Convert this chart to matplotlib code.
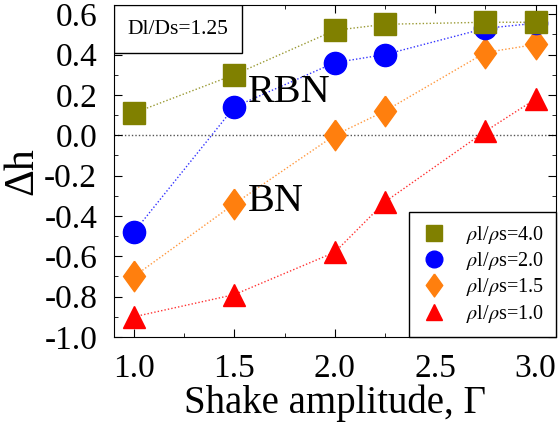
import matplotlib
matplotlib.use('Agg')
import matplotlib.pyplot as plt
from matplotlib.patches import Rectangle
from matplotlib.ticker import MultipleLocator, FormatStrFormatter

plt.rcParams['font.family'] = ['Liberation Serif', 'DejaVu Serif']
plt.rcParams['mathtext.fontset'] = 'stix'
plt.rcParams['axes.unicode_minus'] = False

# shake amplitude values
gamma = [1.0, 1.5, 2.0, 2.25, 2.75, 3.0]

# delta h for each density ratio
dh_40 = [0.11, 0.30, 0.52, 0.55, 0.56, 0.56]
dh_20 = [-0.48, 0.14, 0.36, 0.40, 0.53, 0.555]
dh_15 = [-0.70, -0.34, 0.00, 0.12, 0.41, 0.45]
dh_10 = [-0.90, -0.79, -0.58, -0.33, 0.02, 0.18]

labels = [r'$\rho$l/$\rho$s=4.0', r'$\rho$l/$\rho$s=2.0',
          r'$\rho$l/$\rho$s=1.5', r'$\rho$l/$\rho$s=1.0']

diamond = [(0, 1), (0.72, 0), (0, -1), (-0.72, 0), (0, 1)]

fig = plt.figure(figsize=(5.58, 4.26), dpi=100)
ax = fig.add_axes([0.204, 0.209, 0.792, 0.779])

ax.axhline(0.0, color='#555555', ls=(0, (1, 1.5)), lw=1.0, zorder=1)

series = [
    (dh_40, '#808000', 's', 16),
    (dh_20, '#0000ff', 'o', 16),
    (dh_15, '#ff7f0e', diamond, 22),
    (dh_10, '#ff0000', '^', 16),
]
for i, ((yy, c, m, ms), lab) in enumerate(zip(series, labels)):
    z = 10 - i
    ax.plot(gamma, yy, color=c, ls=(0, (1, 1.5)), lw=1.0, alpha=0.8, zorder=2)
    ax.plot(gamma, yy, color=c, ls='none', marker=m, ms=ms, mec=c, label=lab, zorder=z)

ax.set_xlim(0.9, 3.1)
ax.set_ylim(-1.0, 0.645)
ax.xaxis.set_major_locator(MultipleLocator(0.5))
ax.xaxis.set_minor_locator(MultipleLocator(0.25))
ax.yaxis.set_major_locator(MultipleLocator(0.2))
ax.yaxis.set_minor_locator(MultipleLocator(0.1))
ax.xaxis.set_major_formatter(FormatStrFormatter('%.1f'))
ax.yaxis.set_major_formatter(FormatStrFormatter('%.1f'))
ax.tick_params(which='both', direction='in', top=True, right=True, labelsize=24)
ax.tick_params(which='major', length=6)
ax.tick_params(which='minor', length=3)
ax.tick_params(axis='x', pad=12)
ax.tick_params(axis='y', pad=12)

ax.set_xlabel('Shake amplitude, \u0393', fontsize=28, labelpad=0)
ax.set_ylabel('\u0394h', fontsize=30, labelpad=2)

ax.text(1.565, 0.21, 'RBN', fontsize=29, va='center', ha='left', zorder=12)
ax.text(1.565, -0.33, 'BN', fontsize=29, va='center', ha='left', zorder=12)

# parameter box in the upper left corner
ax.add_patch(Rectangle((0, 0.855), 0.29, 0.145, transform=ax.transAxes,
                       fc='white', ec='black', lw=1, zorder=14))
ax.text(0.145, 0.9275, 'Dl/Ds=1.25', transform=ax.transAxes, fontsize=15.5,
        ha='center', va='center', zorder=15)

leg = ax.legend(loc='lower right', fontsize=14.5, frameon=True, fancybox=False,
                edgecolor='black', borderaxespad=0, markerscale=0.75,
                handlelength=1.2, handletextpad=1.0, labelspacing=0.22,
                borderpad=0.6, framealpha=1)
leg.get_frame().set_linewidth(1.0)
leg.set_zorder(20)

fig.savefig('out.png', dpi=100)
